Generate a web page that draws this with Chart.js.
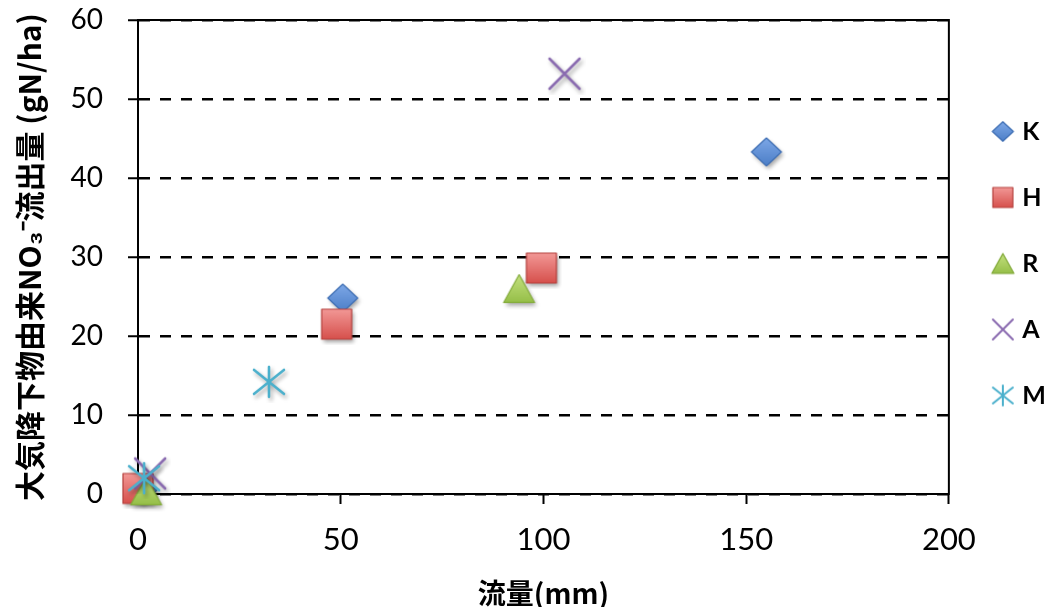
<!DOCTYPE html>
<html>
<head>
<meta charset="utf-8">
<script src="https://cdn.jsdelivr.net/npm/chart.js@4.4.1/dist/chart.umd.min.js"></script>
<style>
    body { margin: 0; background: #fff; }
    #wrap { width: 1050px; height: 607px; }
</style>
</head>
<body>
<div id="wrap"><canvas id="chart" width="1050" height="607"></canvas></div>
<script>
// =====================
// DATA
// =====================

const seriesNames = ['K', 'H', 'R', 'A', 'M'];

const kPoints = [{ x: 1, y: 0.5 }, { x: 50.5, y: 24.8 }, { x: 155, y: 43.3 }];
const hPoints = [{ x: 0, y: 0.7 }, { x: 49, y: 21.5 }, { x: 99.5, y: 28.6 }];
const rPoints = [{ x: 2, y: 0.4 }, { x: 94, y: 26 }];
const aPoints = [{ x: 3, y: 2.6 }, { x: 105.2, y: 53.2 }];
const mPoints = [{ x: 1.5, y: 2 }, { x: 32.3, y: 14.2 }];

const xTicks = [0, 50, 100, 150, 200];
const yTicks = [0, 10, 20, 30, 40, 50, 60];

const xTitle = '流量(mm)';
const yTitle = '大気降下物由来NO₃⁻流出量 (gN/ha)';

// =====================
// MARKERS
// =====================

function makeMarker(kind, size, shadow, shiftX) {
    const pad = shadow ? 6 : 2;
    const shift = shiftX || 0;
    const c = document.createElement('canvas');
    c.width = size + pad * 2 + Math.abs(shift) * 2;
    c.height = size + pad * 2;
    const g = c.getContext('2d');
    const cx = c.width / 2 + shift;
    const cy = c.height / 2;
    const h = size / 2;

    if (shadow) {
        g.shadowColor = 'rgba(0, 0, 0, 0.35)';
        g.shadowBlur = 4;
        g.shadowOffsetX = 2;
        g.shadowOffsetY = 3;
    }

    g.lineJoin = 'round';
    let grad;

    if (kind === 'diamond') {
        grad = g.createLinearGradient(0, cy - h, 0, cy + h);
        grad.addColorStop(0, '#7fa9e8');
        grad.addColorStop(1, '#4a7dc6');
        g.beginPath();
        g.moveTo(cx, cy - h * 0.93);
        g.lineTo(cx + h, cy);
        g.lineTo(cx, cy + h * 0.93);
        g.lineTo(cx - h, cy);
        g.closePath();
        g.fillStyle = grad;
        g.fill();
        g.shadowColor = 'transparent';
        g.strokeStyle = '#3d6db3';
        g.lineWidth = 1.2;
        g.stroke();
    } else if (kind === 'square') {
        grad = g.createLinearGradient(0, cy - h, 0, cy + h);
        grad.addColorStop(0, '#f29896');
        grad.addColorStop(1, '#d6504c');
        g.fillStyle = grad;
        g.fillRect(cx - h, cy - h, size, size);
        g.shadowColor = 'transparent';
        g.strokeStyle = '#b5403d';
        g.lineWidth = 1.2;
        g.strokeRect(cx - h, cy - h, size, size);
    } else if (kind === 'triangle') {
        grad = g.createLinearGradient(0, cy - h, 0, cy + h);
        grad.addColorStop(0, '#c6e282');
        grad.addColorStop(1, '#93bd45');
        g.beginPath();
        g.moveTo(cx, cy - h * 0.9);
        g.lineTo(cx + h, cy + h * 0.9);
        g.lineTo(cx - h, cy + h * 0.9);
        g.closePath();
        g.fillStyle = grad;
        g.fill();
        g.shadowColor = 'transparent';
        g.strokeStyle = '#84ab3c';
        g.lineWidth = 1.2;
        g.stroke();
    } else if (kind === 'cross') {
        g.strokeStyle = '#8a6bb0';
        g.lineWidth = size > 24 ? 2.6 : 2;
        g.lineCap = 'round';
        g.beginPath();
        g.moveTo(cx - h, cy - h);
        g.lineTo(cx + h, cy + h);
        g.moveTo(cx + h, cy - h);
        g.lineTo(cx - h, cy + h);
        g.stroke();
    } else if (kind === 'asterisk') {
        g.strokeStyle = '#4bb0cc';
        g.lineWidth = size > 24 ? 2.6 : 2;
        g.lineCap = 'round';
        g.beginPath();
        g.moveTo(cx - h, cy - h * 0.8);
        g.lineTo(cx + h, cy + h * 0.8);
        g.moveTo(cx + h, cy - h * 0.8);
        g.lineTo(cx - h, cy + h * 0.8);
        g.moveTo(cx, cy - h);
        g.lineTo(cx, cy + h);
        g.stroke();
    }
    return c;
}

const markerKinds = ['diamond', 'square', 'triangle', 'cross', 'asterisk'];
const plotSizes = [30, 30, 31, 30, 30];
const legendSizes = [21, 20, 22, 20, 20];

const plotMarkers = markerKinds.map((k, i) => makeMarker(k, plotSizes[i], true));
const legendMarkers = markerKinds.map((k, i) => makeMarker(k, legendSizes[i], false, 3));

// =====================
// CHART
// =====================

const pointSets = [kPoints, hPoints, rPoints, aPoints, mPoints];

const datasets = seriesNames.map((name, i) => ({
    label: name,
    data: pointSets[i],
    pointStyle: plotMarkers[i],
    pointRadius: 15,
    showLine: false,
    clip: false,
    order: seriesNames.length - i,
}));

// box round the plot area
const plotBox = {
    id: 'plotBox',
    beforeDatasetsDraw(chart) {
        const a = chart.chartArea;
        const ctx = chart.ctx;
        ctx.save();
        ctx.strokeStyle = '#000';
        ctx.lineWidth = 2;
        ctx.strokeRect(a.left, a.top, a.right - a.left, a.bottom - a.top);
        ctx.restore();
    },
};

const tickFont = { family: 'Lato, "Open Sans", sans-serif', size: 28 };

new Chart(document.getElementById('chart'), {
    type: 'scatter',
    data: { datasets: datasets },
    options: {
        responsive: false,
        animation: false,
        layout: { padding: { top: 20, right: -6, bottom: 0, left: 0 } },
        plugins: {
            tooltip: { enabled: false },
            legend: {
                position: 'right',
                align: 'start',
                title: {
                    display: true,
                    text: ' ',
                    padding: { top: 46, bottom: 0 },
                    font: { size: 10, lineHeight: 1.2 },
                },
                labels: {
                    usePointStyle: true,
                    boxWidth: 20,
                    padding: 41,
                    color: '#000',
                    font: { family: 'Lato, "Open Sans", sans-serif', size: 25, weight: 'bold' },
                    generateLabels(chart) {
                        return chart.data.datasets.map((ds, i) => ({
                            text: ds.label,
                            fontColor: '#000',
                            pointStyle: legendMarkers[i],
                            fillStyle: 'transparent',
                            strokeStyle: 'transparent',
                            lineWidth: 0,
                            datasetIndex: i,
                            hidden: false,
                        }));
                    },
                },
            },
        },
        scales: {
            x: {
                type: 'linear',
                min: 0,
                max: 200,
                afterBuildTicks(scale) {
                    scale.ticks = xTicks.map(v => ({ value: v }));
                },
                afterFit(scale) {
                    scale.height = 113;
                },
                ticks: {
                    color: '#000',
                    padding: 17,
                    maxRotation: 0,
                    font: { family: 'Lato, "Open Sans", sans-serif', size: 31 },
                },
                grid: {
                    drawOnChartArea: false,
                    drawTicks: true,
                    tickLength: 10,
                    tickColor: '#000',
                    tickWidth: 2,
                },
                border: { display: true, color: '#000', width: 2 },
                title: {
                    display: true,
                    text: xTitle,
                    color: '#000',
                    padding: 0,
                    font: { family: '"Noto Sans CJK JP", sans-serif', size: 28, weight: 'bold', lineHeight: 1 },
                },
            },
            y: {
                type: 'linear',
                min: 0,
                max: 60,
                afterBuildTicks(scale) {
                    scale.ticks = yTicks.map(v => ({ value: v }));
                },
                afterFit(scale) {
                    scale.width = 138;
                    // tick padding is only wanted sideways
                    scale.paddingTop = 0;
                    scale.paddingBottom = 0;
                },
                ticks: {
                    color: '#000',
                    padding: 25,
                    font: tickFont,
                },
                grid: {
                    color: '#000',
                    lineWidth: 2.5,
                    drawTicks: true,
                    tickLength: 10,
                    tickColor: '#000',
                    tickWidth: 2,
                    tickBorderDash: [],
                },
                border: { display: true, color: '#000', width: 2, dash: [11, 10] },
                title: {
                    display: true,
                    text: yTitle,
                    color: '#000',
                    padding: { top: 12, bottom: 0 },
                    font: { family: '"Noto Sans CJK JP", sans-serif', size: 30, weight: 'bold', lineHeight: 1.2 },
                },
            },
        },
    },
    plugins: [plotBox],
});
</script>
</body>
</html>
